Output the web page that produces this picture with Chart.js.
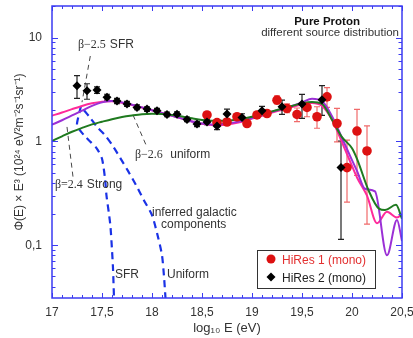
<!DOCTYPE html>
<html>
<head>
<meta charset="utf-8">
<script src="https://cdn.jsdelivr.net/npm/chart.js@4.4.1/dist/chart.umd.min.js"></script>
<style>
  html, body { margin: 0; padding: 0; background: #fff; }
</style>
</head>
<body>
<canvas id="spectrum" width="413" height="338"></canvas>
<script>
// HiRes 1 (mono), red circles
const hires1X = [18.55, 18.65, 18.75, 18.85, 18.95, 19.05, 19.15, 19.25, 19.35, 19.45, 19.55, 19.65, 19.75, 19.85, 19.95, 20.05, 20.15];
const hires1Y = [1.80, 1.52, 1.54, 1.73, 1.49, 1.80, 1.86, 2.50, 2.08, 1.82, 2.13, 1.73, 2.69, 1.49, 0.56, 1.26, 0.81];
const hires1Lo = [1.70, 1.44, 1.46, 1.64, 1.41, 1.71, 1.77, 2.30, 1.90, 1.55, 1.73, 1.34, 2.13, 0.99, 0.26, 0.47, 0.16];
const hires1Hi = [1.90, 1.60, 1.62, 1.82, 1.57, 1.89, 1.96, 2.75, 2.30, 2.10, 2.29, 2.16, 3.30, 2.08, 1.03, 2.04, 1.41];

// HiRes 2 (mono), black diamonds
const hires2X = [17.25, 17.35, 17.45, 17.55, 17.65, 17.75, 17.85, 17.95, 18.05, 18.15, 18.25, 18.35, 18.45, 18.55, 18.65, 18.75, 18.9, 19.1, 19.3, 19.5, 19.7, 19.89];
const hires2Y = [3.44, 3.08, 3.13, 2.66, 2.45, 2.30, 2.13, 2.05, 1.98, 1.82, 1.83, 1.63, 1.47, 1.54, 1.41, 1.84, 1.70, 1.98, 2.16, 2.29, 2.52, 0.56];
const hires2Lo = [2.60, 2.55, 2.90, 2.50, 2.32, 2.18, 2.02, 1.95, 1.88, 1.73, 1.73, 1.55, 1.39, 1.45, 1.30, 1.64, 1.58, 1.80, 1.82, 1.67, 1.78, 0.114];
const hires2Hi = [4.30, 3.60, 3.35, 2.85, 2.60, 2.43, 2.25, 2.16, 2.08, 1.92, 1.93, 1.72, 1.56, 1.63, 1.52, 2.05, 1.85, 2.18, 2.50, 2.84, 3.45, 1.01];

// extragalactic model curves
const curveX = [17.0, 17.1, 17.2, 17.3, 17.4, 17.5, 17.6, 17.7, 17.8, 17.9, 18.0, 18.1, 18.2, 18.3, 18.4, 18.5, 18.6, 18.7, 18.8, 18.9, 19.0, 19.1, 19.2, 19.3, 19.4, 19.5, 19.6, 19.7, 19.8, 19.9, 20.0];
const pinkY   = [1.77, 1.90, 2.05, 2.20, 2.33, 2.42, 2.44, 2.36, 2.25, 2.12, 2.00, 1.88, 1.77, 1.66, 1.56, 1.48, 1.44, 1.44, 1.48, 1.55, 1.66, 1.77, 1.90, 2.02, 2.15, 2.27, 2.35, 2.20, 1.62, 0.98, 0.58];
const purpleY = [1.45, 1.60, 1.78, 1.98, 2.20, 2.38, 2.45, 2.38, 2.26, 2.13, 2.00, 1.88, 1.77, 1.66, 1.56, 1.49, 1.46, 1.47, 1.51, 1.58, 1.68, 1.80, 1.93, 2.06, 2.20, 2.38, 2.58, 2.45, 1.75, 1.08, 0.66];
const greenY  = [1.01, 1.12, 1.24, 1.35, 1.46, 1.55, 1.64, 1.72, 1.78, 1.83, 1.85, 1.84, 1.80, 1.74, 1.67, 1.61, 1.58, 1.58, 1.60, 1.65, 1.73, 1.83, 1.95, 2.07, 2.20, 2.33, 2.40, 2.30, 1.62, 1.10, 0.86];
const pinkTailX   = [20.05, 20.15, 20.25, 20.35, 20.45, 20.5];
const pinkTailY   = [0.45, 0.30, 0.163, 0.21, 0.185, 0.20];
const purpleTailX = [20.05, 20.13, 20.23, 20.35, 20.45, 20.5];
const purpleTailY = [0.52, 0.35, 0.33, 0.08, 0.175, 0.11];
const greenTailX  = [20.05, 20.17, 20.27, 20.33, 20.44, 20.5];
const greenTailY  = [0.68, 0.33, 0.225, 0.218, 0.245, 0.18];

// inferred galactic components (blue dashed)
const galSfrX = [17.29, 17.265, 17.25, 17.28, 17.33, 17.39, 17.45, 17.50, 17.53, 17.545, 17.57, 17.585, 17.60, 17.61, 17.62];
const galSfrY = [2.2, 1.75, 1.45, 1.28, 1.12, 0.98, 0.85, 0.68, 0.44, 0.30, 0.20, 0.15, 0.09, 0.06, 0.031];
const galUniX = [17.32, 17.38, 17.45, 17.52, 17.60, 17.68, 17.76, 17.84, 17.92, 18.00, 18.06, 18.10, 18.12, 18.135];
const galUniY = [2.0, 1.7, 1.38, 1.18, 0.93, 0.70, 0.52, 0.38, 0.27, 0.195, 0.12, 0.08, 0.05, 0.031];

// label pointer lines
const ptrSfrX = [17.383, 17.30];
const ptrSfrY = [6.66, 2.39];
const ptrUniX = [17.81, 17.95];
const ptrUniY = [1.80, 0.88];
const ptrStrongX = [17.15, 17.21];
const ptrStrongY = [1.38, 0.455];

const yLabels = { '-1': '0,1', '0': '1', '1': '10' };

const BLUE_AXIS = '#3b3bf2';
const SANS = '"Liberation Sans", Arial, sans-serif';
const SERIF = '"Liberation Serif", "Times New Roman", serif';

function toPoints(xs, ys) {
  return xs.map((x, i) => ({ x: x, y: ys[i] }));
}

function curve(xs, ys, color, width, dash, smooth) {
  return {
    type: 'line',
    data: toPoints(xs, ys),
    borderColor: color,
    borderWidth: width,
    borderDash: dash || [],
    pointRadius: 0,
    tension: smooth ? 0.25 : 0,
    cubicInterpolationMode: smooth === 'monotone' ? 'monotone' : 'default',
    fill: false,
    order: 5
  };
}

const errorBars = {
  id: 'errorBars',
  beforeDatasetsDraw(chart) {
    const { ctx, chartArea, scales } = chart;
    const draw = (xs, lo, hi, color) => {
      ctx.strokeStyle = color;
      ctx.lineWidth = 1.2;
      xs.forEach((x, i) => {
        const px = scales.x.getPixelForValue(x);
        const y1 = scales.y.getPixelForValue(lo[i]);
        const y2 = scales.y.getPixelForValue(hi[i]);
        ctx.beginPath();
        ctx.moveTo(px, y1); ctx.lineTo(px, y2);
        ctx.moveTo(px - 3, y1); ctx.lineTo(px + 3, y1);
        ctx.moveTo(px - 3, y2); ctx.lineTo(px + 3, y2);
        ctx.stroke();
      });
    };
    ctx.save();
    ctx.beginPath();
    ctx.rect(chartArea.left, chartArea.top, chartArea.right - chartArea.left, chartArea.bottom - chartArea.top);
    ctx.clip();
    draw(hires1X, hires1Lo, hires1Hi, '#f06a6a');
    draw(hires2X, hires2Lo, hires2Hi, '#222');
    ctx.restore();
  }
};

const frame = {
  id: 'frame',
  afterDatasetsDraw(chart) {
    const { ctx, chartArea: a, scales } = chart;
    ctx.save();
    ctx.strokeStyle = BLUE_AXIS;
    ctx.lineWidth = 1.5;
    ctx.strokeRect(a.left, a.top, a.right - a.left, a.bottom - a.top);
    ctx.lineWidth = 1;
    ctx.beginPath();
    for (let i = 0; i <= 35; i++) {
      const px = Math.round(scales.x.getPixelForValue(17 + i / 10)) + 0.5;
      const len = i % 5 === 0 ? 5 : 3;
      ctx.moveTo(px, a.bottom); ctx.lineTo(px, a.bottom - len);
      ctx.moveTo(px, a.top); ctx.lineTo(px, a.top + len);
    }
    for (let d = -2; d <= 1; d++) {
      for (let m = 1; m <= 9; m++) {
        const v = m * Math.pow(10, d);
        if (v < scales.y.min || v > scales.y.max) continue;
        const py = Math.round(scales.y.getPixelForValue(v)) + 0.5;
        const len = m === 1 ? 6 : 3.5;
        ctx.moveTo(a.left, py); ctx.lineTo(a.left + len, py);
        ctx.moveTo(a.right, py); ctx.lineTo(a.right - len, py);
      }
    }
    ctx.stroke();
    ctx.restore();
  }
};

const notes = {
  id: 'notes',
  afterDraw(chart) {
    const { ctx } = chart;
    ctx.save();
    ctx.fillStyle = '#333';
    ctx.textBaseline = 'alphabetic';

    const beta = (x, y, greek, word) => {
      ctx.font = '12px ' + SERIF;
      ctx.fillText(greek, x, y);
      const w = ctx.measureText(greek).width;
      ctx.font = '12px ' + SANS;
      ctx.fillText(word, x + w + 4, y);
    };
    beta(78, 48, 'β−2.5', 'SFR');
    beta(135, 158, 'β−2.6', ' uniform');
    beta(55, 188, 'β=2.4', 'Strong');

    ctx.font = '12px ' + SANS;
    ctx.fillText('inferred galactic', 152, 216);
    ctx.fillText('components', 161, 228);
    ctx.fillText('SFR', 115, 278);
    ctx.fillText('Uniform', 167, 278);

    ctx.textAlign = 'right';
    ctx.font = 'bold 11.5px ' + SANS;
    ctx.fillStyle = '#111';
    ctx.fillText('Pure Proton', 360, 25);
    ctx.font = '11.5px ' + SANS;
    ctx.fillStyle = '#333';
    ctx.fillText('different source distribution', 399, 36);

    // legend
    ctx.textAlign = 'left';
    ctx.fillStyle = '#fff';
    ctx.fillRect(257, 250, 118, 38);
    ctx.strokeStyle = '#333';
    ctx.lineWidth = 1;
    ctx.strokeRect(257.5, 250.5, 118, 38);
    ctx.fillStyle = '#dd1111';
    ctx.beginPath();
    ctx.arc(271, 259, 4.5, 0, Math.PI * 2);
    ctx.fill();
    ctx.font = '12px ' + SANS;
    ctx.fillStyle = '#e33030';
    ctx.fillText('HiRes 1 (mono)', 282, 264);
    ctx.fillStyle = '#000';
    ctx.beginPath();
    ctx.moveTo(271, 272.5); ctx.lineTo(275.5, 277); ctx.lineTo(271, 281.5); ctx.lineTo(266.5, 277);
    ctx.closePath();
    ctx.fill();
    ctx.fillStyle = '#222';
    ctx.fillText('HiRes 2 (mono)', 282, 282);
    ctx.restore();
  }
};

new Chart(document.getElementById('spectrum'), {
  type: 'scatter',
  data: {
    datasets: [
      {
        label: 'HiRes 2 (mono)',
        data: toPoints(hires2X, hires2Y),
        pointStyle: 'rectRot',
        pointRadius: 4.5,
        backgroundColor: '#000',
        borderColor: '#000',
        borderWidth: 0,
        order: 1
      },
      {
        label: 'HiRes 1 (mono)',
        data: toPoints(hires1X, hires1Y),
        pointStyle: 'circle',
        pointRadius: 4.8,
        backgroundColor: '#dd1111',
        borderColor: '#dd1111',
        borderWidth: 0,
        order: 2
      },
      curve(curveX.concat(greenTailX), greenY.concat(greenTailY), '#1f7a1f', 2, null, 'monotone'),
      curve(curveX.concat(purpleTailX), purpleY.concat(purpleTailY), '#9b30d6', 2, null, 'monotone'),
      curve(curveX.concat(pinkTailX), pinkY.concat(pinkTailY), '#ff2a9a', 2, null, 'monotone'),
      curve(galSfrX, galSfrY, '#1a32e6', 2.2, [7, 5], true),
      curve(galUniX, galUniY, '#1a32e6', 2.2, [7, 5], true),
      curve(ptrSfrX, ptrSfrY, '#333', 0.9, [5, 4]),
      curve(ptrUniX, ptrUniY, '#333', 0.9, [5, 4]),
      curve(ptrStrongX, ptrStrongY, '#333', 0.9, [5, 4])
    ]
  },
  options: {
    responsive: false,
    animation: false,
    layout: { padding: { left: 8, top: 6, right: 11, bottom: 0 } },
    plugins: { legend: { display: false }, tooltip: { enabled: false } },
    scales: {
      x: {
        type: 'linear',
        min: 17,
        max: 20.5,
        grid: { display: false, drawTicks: false },
        border: { display: false },
        ticks: {
          stepSize: 0.5,
          padding: 7,
          color: '#333',
          font: { family: SANS, size: 12 },
          callback: (v) => String(v).replace('.', ',')
        },
        title: {
          display: true,
          text: 'log₁₀ E (eV)',
          color: '#333',
          font: { family: SANS, size: 13 },
          padding: { top: 0, bottom: 2 }
        },
        afterFit: (s) => { s.height = 40; s.paddingLeft = 0; s.paddingRight = 0; }
      },
      y: {
        type: 'logarithmic',
        min: 0.031,
        max: 20.2,
        grid: { display: false, drawTicks: false },
        border: { display: false },
        ticks: {
          autoSkip: false,
          padding: 10,
          color: '#333',
          font: { family: SANS, size: 12 },
          callback: (v) => {
            const l = Math.log10(v);
            return Math.abs(l - Math.round(l)) < 1e-6 ? (yLabels[String(Math.round(l))] || '') : '';
          }
        },
        title: {
          display: true,
          text: 'Φ(E) × E³ (10²⁴ eV²m⁻²s⁻¹sr⁻¹)',
          color: '#333',
          font: { family: SANS, size: 12 },
          padding: { top: 4, bottom: 0 }
        },
        afterFit: (s) => { s.width = 44; s.paddingTop = 0; s.paddingBottom = 0; }
      }
    }
  },
  plugins: [errorBars, frame, notes]
});
</script>
</body>
</html>
